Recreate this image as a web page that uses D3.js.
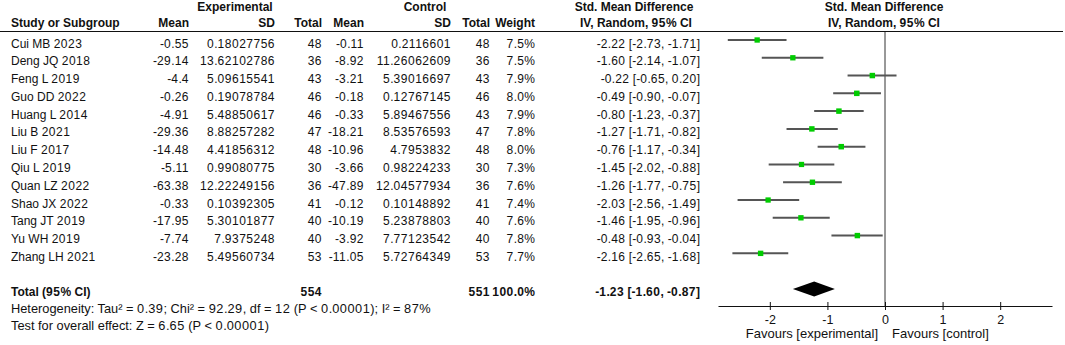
<!DOCTYPE html>
<html>
<head>
<meta charset="utf-8">
<script src="https://cdn.jsdelivr.net/npm/d3@7"></script>
<style>
  body { margin: 0; background: #fff; }
  text { font-family: "Liberation Sans", Arial, sans-serif; font-size: 12px; fill: #111; }
  .bold { font-weight: bold; }
</style>
</head>
<body>
<div id="chart"></div>
<script>
// forest plot data
var studies = ["Cui MB 2023", "Deng JQ 2018", "Feng L 2019", "Guo DD 2022", "Huang L 2014", "Liu B 2021",
  "Liu F 2017", "Qiu L 2019", "Quan LZ 2022", "Shao JX 2022", "Tang JT 2019", "Yu WH 2019", "Zhang LH 2021"];
var expMean = [-0.55, -29.14, -4.4, -0.26, -4.91, -29.36, -14.48, -5.11, -63.38, -0.33, -17.95, -7.74, -23.28];
var expSD = [0.18027756, 13.62102786, 5.09615541, 0.19078784, 5.48850617, 8.88257282, 4.41856312,
  0.99080775, 12.22249156, 0.10392305, 5.30101877, 7.9375248, 5.49560734];
var expN = [48, 36, 43, 46, 46, 47, 48, 30, 36, 41, 40, 40, 53];
var ctlMean = [-0.11, -8.92, -3.21, -0.18, -0.33, -18.21, -10.96, -3.66, -47.89, -0.12, -10.19, -3.92, -11.05];
var ctlSD = [0.2116601, 11.26062609, 5.39016697, 0.12767145, 5.89467556, 8.53576593, 4.7953832,
  0.98224233, 12.04577934, 0.10148892, 5.23878803, 7.77123542, 5.72764349];
var ctlN = [48, 36, 43, 46, 43, 47, 48, 30, 36, 41, 40, 40, 53];
var weights = [7.5, 7.5, 7.9, 8.0, 7.9, 7.8, 8.0, 7.3, 7.6, 7.4, 7.6, 7.8, 7.7];
var smd = [-2.22, -1.60, -0.22, -0.49, -0.80, -1.27, -0.76, -1.45, -1.26, -2.03, -1.46, -0.48, -2.16];
var ciLow = [-2.73, -2.14, -0.65, -0.90, -1.23, -1.71, -1.17, -2.02, -1.77, -2.56, -1.95, -0.93, -2.65];
var ciHigh = [-1.71, -1.07, 0.20, -0.07, -0.37, -0.82, -0.34, -0.88, -0.75, -1.49, -0.96, -0.04, -1.68];

var totalExp = 554, totalCtl = 551, totalWeight = 100.0;
var pooled = { est: -1.23, lo: -1.60, hi: -0.87 };
var heterogeneity = "Heterogeneity: Tau\u00b2 = 0.39; Chi\u00b2 = 92.29, df = 12 (P < 0.00001); I\u00b2 = 87%";
var overallTest = "Test for overall effect: Z = 6.65 (P < 0.00001)";
var axisTicks = [-2, -1, 0, 1, 2];

var svgWidth = 1065;
var svgHeight = 345;

var svg = d3.select("#chart")
  .append("svg")
  .attr("width", svgWidth)
  .attr("height", svgHeight);

// row positions (line centre of each study row)
var y = d3.scaleLinear().domain([0, 1]).range([40, 57.78]);
var x = d3.scaleLinear().domain([-2.9, 2.9]).range([718, 1052]);
var boxSize = d3.scaleSqrt().domain([0, 8]).range([0, 5.5]);

// digits in this figure are a little spaced out
function addText(str, px, py, anchor, bold) {
  var t = svg.append("text")
    .attr("x", px)
    .attr("y", py)
    .attr("text-anchor", anchor || "start");
  if (bold) t.classed("bold", true);
  String(str).split(/(\d+)/).forEach(function(part) {
    if (!part) return;
    var ts = t.append("tspan").text(part);
    if (/^\d/.test(part)) ts.style("letter-spacing", "0.5px");
  });
  return t;
}

var f2 = function(v) { return v.toFixed(2); };
var ciText = function(e, l, h) { return f2(e) + " [" + f2(l) + ", " + f2(h) + "]"; };

// column right edges
var col = { study: 11, eMean: 189, eSD: 275, eN: 322, cMean: 364, cSD: 451, cN: 490, w: 535, ci: 700 };

// headers
var h1 = 11, h2 = 27;
addText("Experimental", 235, h1, "middle", true);
addText("Control", 425, h1, "middle", true);
addText("Std. Mean Difference", 634, h1, "middle", true);
addText("Std. Mean Difference", 884, h1, "middle", true);
addText("Study or Subgroup", col.study, h2, "start", true);
addText("Mean", col.eMean, h2, "end", true);
addText("SD", col.eSD, h2, "end", true);
addText("Total", col.eN, h2, "end", true);
addText("Mean", col.cMean, h2, "end", true);
addText("SD", col.cSD, h2, "end", true);
addText("Total", col.cN, h2, "end", true);
addText("Weight", col.w, h2, "end", true);
addText("IV, Random, 95% CI", 636, h2, "middle", true);
addText("IV, Random, 95% CI", 884, h2, "middle", true);

svg.append("line")
  .attr("x1", 0).attr("x2", 1063)
  .attr("y1", 31.5).attr("y2", 31.5)
  .attr("stroke", "#111").attr("stroke-width", 1);

// study rows
var base = 7.5;
studies.forEach(function(s, i) {
  var ty = y(i) + base;
  addText(s, col.study, ty, "start");
  addText(expMean[i], col.eMean, ty, "end");
  addText(expSD[i], col.eSD, ty, "end");
  addText(expN[i], col.eN, ty, "end");
  addText(ctlMean[i], col.cMean, ty, "end");
  addText(ctlSD[i], col.cSD, ty, "end");
  addText(ctlN[i], col.cN, ty, "end");
  addText(weights[i].toFixed(1) + "%", col.w, ty, "end");
  addText(ciText(smd[i], ciLow[i], ciHigh[i]), col.ci, ty, "end");
});

// totals
var totalRow = 14;
var tyTot = y(totalRow) + base;
addText("Total (95% CI)", col.study, tyTot, "start", true);
addText(totalExp, col.eN, tyTot, "end", true);
addText(totalCtl, col.cN, tyTot, "end", true);
addText(totalWeight.toFixed(1) + "%", col.w, tyTot, "end", true);
addText(ciText(pooled.est, pooled.lo, pooled.hi), col.ci, tyTot, "end", true);
addText(heterogeneity, col.study, 313, "start").style("font-size", "12.8px");
addText(overallTest, col.study, 330, "start").style("font-size", "12.8px");

// plot: line of no effect
var axisY = 306;
svg.append("line")
  .attr("x1", x(0)).attr("x2", x(0))
  .attr("y1", 32).attr("y2", axisY)
  .attr("stroke", "#333").attr("stroke-width", 1);

// confidence intervals
svg.selectAll(".ci")
  .data(studies)
  .enter()
  .append("line")
  .attr("class", "ci")
  .attr("x1", (d, i) => x(ciLow[i]))
  .attr("x2", (d, i) => x(ciHigh[i]))
  .attr("y1", (d, i) => y(i))
  .attr("y2", (d, i) => y(i))
  .attr("stroke", "#555")
  .attr("stroke-width", 2);

// point estimates
svg.selectAll(".box")
  .data(studies)
  .enter()
  .append("rect")
  .attr("class", "box")
  .attr("x", (d, i) => x(smd[i]) - boxSize(weights[i]) / 2)
  .attr("y", (d, i) => y(i) - boxSize(weights[i]) / 2)
  .attr("width", (d, i) => boxSize(weights[i]))
  .attr("height", (d, i) => boxSize(weights[i]))
  .attr("fill", "#00cc00");

// pooled diamond
var dy0 = y(totalRow);
svg.append("path")
  .attr("d", "M" + x(pooled.lo) + "," + dy0 +
    "L" + x(pooled.est) + "," + (dy0 - 7.5) +
    "L" + x(pooled.hi) + "," + dy0 +
    "L" + x(pooled.est) + "," + (dy0 + 7.5) + "Z")
  .attr("fill", "#000");

// x axis
var axis = svg.append("g")
  .attr("transform", `translate(0, ${axisY})`)
  .call(d3.axisBottom(x).tickValues(axisTicks).tickFormat(d => String(d)).tickSizeOuter(0).tickSizeInner(4).tickPadding(5));
axis.select(".domain").attr("stroke", "#111");
axis.selectAll(".tick line").attr("y1", -4).attr("y2", 4).attr("stroke", "#111");
axis.selectAll(".tick text")
  .style("font-family", "'Liberation Sans', Arial, sans-serif")
  .style("font-size", "12.5px")
  .attr("fill", "#111");

addText("Favours [experimental]", 878, 338, "end").style("font-size", "13px");
addText("Favours [control]", 892, 338, "start").style("font-size", "13px");
</script>
</body>
</html>
